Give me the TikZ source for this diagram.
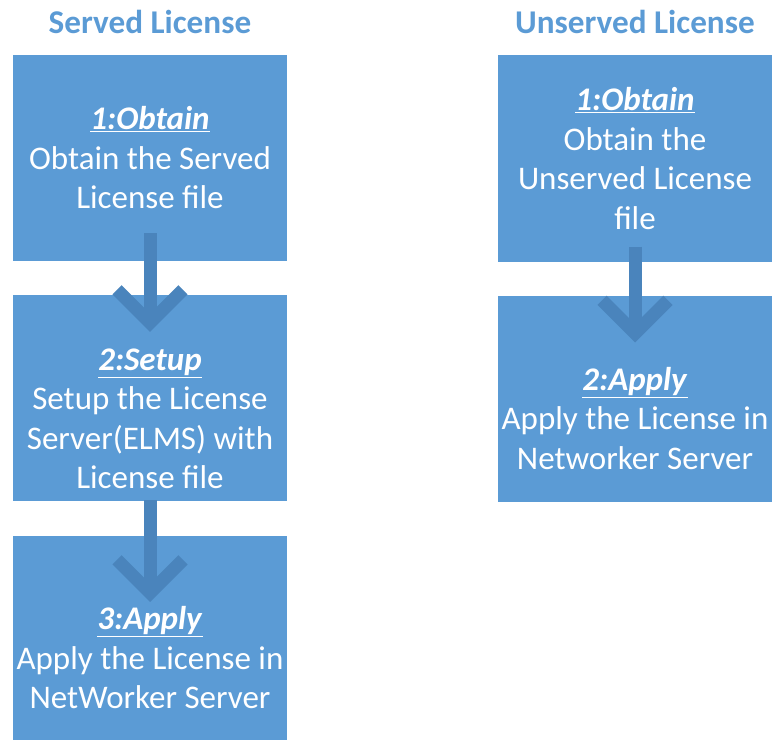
\documentclass[tikz,border=0pt]{standalone}
\usepackage{fontspec}
\setmainfont{Carlito}
\usetikzlibrary{calc}
\definecolor{boxblue}{HTML}{5B9BD5}
\definecolor{arrowblue}{HTML}{4A84BC}
\newcommand\stephead[1]{\underline{\textbf{\textit{#1}}}}
\begin{document}
\begin{tikzpicture}[x=1bp,y=-1bp,
  stepbox/.style={fill=boxblue, draw=none, minimum width=274bp, minimum height=206bp, inner sep=0pt},
  titletext/.style={text=boxblue, font=\bfseries\fontsize{33.2bp}{39.5bp}\selectfont, inner sep=0pt},
  bodytext/.style={text=white, align=center, font=\fontsize{33bp}{39.5bp}\selectfont, inner sep=0pt},
  flow/.style={draw=arrowblue, line width=13bp, line join=miter}]
\useasboundingbox (0,0) rectangle (773,740);
% boxes
\node[stepbox] (s1) at (150,158) {};
\node[stepbox] (s2) at (150,398) {};
\node[stepbox, minimum height=206bp] (s3) at (150,639) {};
\node[stepbox] (u1) at (635,158.5) {};
\node[stepbox] (u2) at (635,398.5) {};
% titles
\node[titletext] (ts) at (150,22) {Served License};
\node[titletext] (tu) at (635,22) {Unserved License};
% arrows
\coordinate (a1t) at ($(s1.south)+(0,-28)$);
\coordinate (a1h) at ($(s2.north)+(0,37)$);
\coordinate (a2t) at ($(s2.south)+(0,-1)$);
\coordinate (a2h) at ($(s3.north)+(0,66)$);
\coordinate (a3t) at ($(u1.south)+(0,-15)$);
\coordinate (a3h) at ($(u2.north)+(0,47)$);
\foreach \t/\h in {a1t/a1h, a2t/a2h, a3t/a3h}{
  \draw[flow] (\t) -- ($(\h)+(0,-12)$);
  \draw[flow] ($(\h)+(-33,-42)$) -- ($(\h)+(0,-9)$) -- ($(\h)+(33,-42)$);
}
% texts
\node[bodytext] (s1t) at (s1) {\stephead{1:Obtain}\\Obtain the Served\\License file};
\node[bodytext] (s2t) at ($(s2)+(0,21)$) {\stephead{2:Setup}\\Setup the License\\Server(ELMS) with\\License file};
\node[bodytext] (s3t) at ($(s3)+(0,19)$) {\stephead{3:Apply}\\Apply the License in\\NetWorker Server};
\node[bodytext] (u1t) at (u1) {\stephead{1:Obtain}\\Obtain the\\Unserved License\\file};
\node[bodytext] (u2t) at ($(u2)+(0,20)$) {\stephead{2:Apply}\\Apply the License in\\Networker Server};
\end{tikzpicture}
\end{document}
